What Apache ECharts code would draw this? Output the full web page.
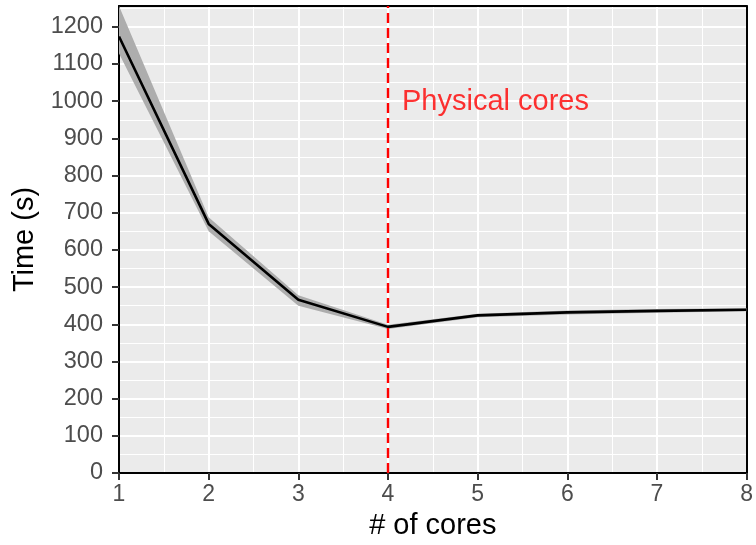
<!DOCTYPE html>
<html>
<head>
<meta charset="utf-8">
<script src="https://cdn.jsdelivr.net/npm/echarts@6/dist/echarts.min.js"></script>
<style>html,body{margin:0;padding:0;background:#fff}#c{width:756px;height:545px}</style>
</head>
<body>
<div id="c"></div>
<script>
const cores = [1, 2, 3, 4, 5, 6, 7, 8];
const timeMean = [1174, 670, 466, 393, 424, 432, 436, 439];
const timeLow = [1128, 650, 450, 387, 419, 426, 431, 435];
const timeHigh = [1256, 688, 478, 399, 428, 437, 441, 443];
const yMax = 1256;
const physicalCores = 4;
const annotationText = 'Physical cores';
const annotationY = 998;

const FONT = '"Liberation Sans", Arial, Helvetica, sans-serif';
const chart = echarts.init(document.getElementById('c'), null, {renderer: 'canvas'});

const meanPts = cores.map((x, i) => [x, timeMean[i]]);
const bandRows = cores.map((x, i) => [x, timeLow[i], timeHigh[i]]);

chart.setOption({
  animation: false,
  backgroundColor: '#ffffff',
  textStyle: {fontFamily: FONT},
  grid: {left: 119, right: 8, top: 6, bottom: 69, show: true, backgroundColor: '#EBEBEB', borderWidth: 0},
  xAxis: [{
    type: 'value', min: 1, max: 8, interval: 1, position: 'bottom',
    name: '# of cores', nameLocation: 'middle', nameGap: 38,
    nameTextStyle: {fontSize: 29, color: '#000', fontFamily: FONT},
    axisLine: {show: true, onZero: false, lineStyle: {color: '#000', width: 2}},
    axisTick: {show: true, length: 7, lineStyle: {color: '#333', width: 2}},
    axisLabel: {fontSize: 23, color: '#4D4D4D', margin: 10, fontFamily: FONT},
    splitLine: {show: true, lineStyle: {color: '#fff', width: 2}}
  }, {
    type: 'value', min: 1, max: 8, interval: 0.5, position: 'top',
    axisLine: {show: true, onZero: false, lineStyle: {color: '#000', width: 2}},
    axisTick: {show: false}, axisLabel: {show: false},
    splitLine: {show: true, lineStyle: {color: '#fff', width: 1}}
  }],
  yAxis: [{
    type: 'value', min: 0, max: yMax, interval: 100, position: 'left',
    name: 'Time (s)', nameLocation: 'middle', nameGap: 80, nameRotate: 90,
    nameTextStyle: {fontSize: 29, color: '#000', fontFamily: FONT},
    axisLine: {show: true, onZero: false, lineStyle: {color: '#000', width: 2}},
    axisTick: {show: true, length: 7, lineStyle: {color: '#333', width: 2}},
    axisLabel: {fontSize: 23.5, color: '#4D4D4D', margin: 16, fontFamily: FONT, showMaxLabel: false,
      formatter: v => (v % 100 === 0 ? String(v) : '')},
    splitLine: {show: true, lineStyle: {color: '#fff', width: 2}}
  }, {
    type: 'value', min: 0, max: yMax, interval: 50, position: 'right',
    axisLine: {show: true, onZero: false, lineStyle: {color: '#000', width: 2}},
    axisTick: {show: false}, axisLabel: {show: false},
    splitLine: {show: true, lineStyle: {color: '#fff', width: 1}}
  }],
  series: [{
    type: 'custom', data: bandRows, silent: true, xAxisIndex: 0, yAxisIndex: 0, z: 2,
    encode: {x: 0, y: [1, 2]},
    renderItem: function (params, api) {
      if (params.dataIndex !== 0) return null;
      const upper = bandRows.map(r => api.coord([r[0], r[2]]));
      const lower = bandRows.map(r => api.coord([r[0], r[1]])).reverse();
      return {
        type: 'polygon',
        shape: {points: upper.concat(lower)},
        style: {fill: '#ADADAD'}
      };
    }
  }, {
    type: 'line', data: meanPts, symbol: 'none', xAxisIndex: 0, yAxisIndex: 0, z: 3,
    lineStyle: {color: '#000', width: 2.6},
    markLine: {
      silent: true, symbol: ['none', 'none'], label: {show: false},
      lineStyle: {color: '#FF0000', width: 2.4, type: [10, 5]},
      data: [{xAxis: physicalCores}]
    }
  }, {
    type: 'scatter', data: [[physicalCores, annotationY]], symbolSize: 0,
    itemStyle: {color: 'rgba(0,0,0,0)'}, xAxisIndex: 0, yAxisIndex: 0, silent: true, z: 5,
    label: {show: true, position: 'right', distance: 14, formatter: annotationText,
      color: '#FF0000', fontSize: 29, fontFamily: FONT}
  }]
});
</script>
</body>
</html>
